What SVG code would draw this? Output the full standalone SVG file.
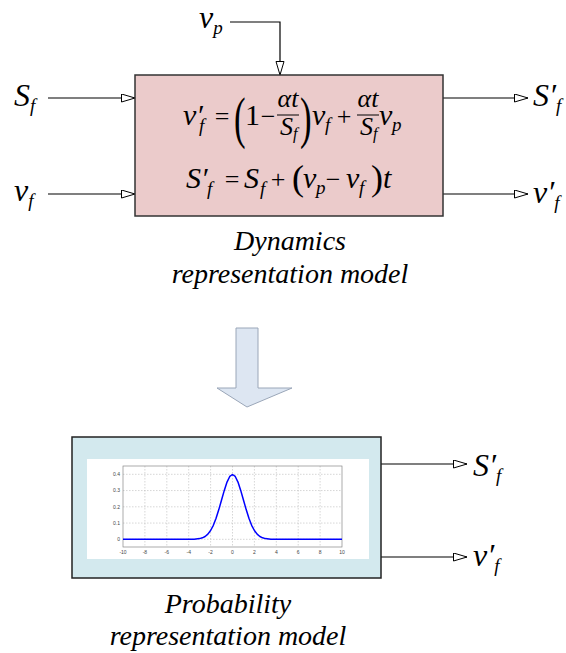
<svg xmlns="http://www.w3.org/2000/svg" width="566" height="653" viewBox="0 0 566 653">
<style>
.lbl{font-style:italic;font-size:32px;fill:#000}
.sub{font-size:19px}
.eq{font-size:30px;fill:#000}
.op{font-size:26px;fill:#000;text-anchor:middle}
.fr{font-size:26px;fill:#000;font-style:italic}
.it{font-style:italic}
.esub{font-style:italic;font-size:19px}
.cap{font-style:italic;font-size:28px;fill:#000;text-anchor:middle}
.conn{stroke:#000;stroke-width:1.2;fill:none;marker-end:url(#hollow)}
.grid{stroke:#bbb;stroke-width:0.6;stroke-dasharray:1.5 1.5}
.tick{font-size:5px;fill:#444}
</style>
<defs>
<marker id="hollow" markerUnits="userSpaceOnUse" markerWidth="16" markerHeight="10" refX="14" refY="4.5" orient="auto">
<path d="M0.5,0.5 L14,4.5 L0.5,8.5 Z" fill="#fff" stroke="#000" stroke-width="1"/>
</marker>
</defs>

<g id="connectors">
<path class="conn" d="M230,22 H280 V75"/>
<path class="conn" d="M48,98 H135"/>
<path class="conn" d="M48,194 H135"/>
<path class="conn" d="M443,98 H528"/>
<path class="conn" d="M443,194 H528"/>
<path class="conn" d="M381,464 H467"/>
<path class="conn" d="M381,557 H467"/>
</g>

<g id="io-labels" font-family="Liberation Serif">
<text class="lbl" x="199" y="28">v<tspan class="sub" dy="6">p</tspan></text>
<text class="lbl" x="14" y="106">S<tspan class="sub" dy="6">f</tspan></text>
<text class="lbl" x="14" y="201">v<tspan class="sub" dy="6">f</tspan></text>
<text class="lbl" x="533" y="106">S′<tspan class="sub" dy="6">f</tspan></text>
<text class="lbl" x="533" y="203">v′<tspan class="sub" dy="6">f</tspan></text>
<text class="lbl" x="473" y="476">S′<tspan class="sub" dy="6">f</tspan></text>
<text class="lbl" x="473" y="566">v′<tspan class="sub" dy="6">f</tspan></text>
</g>

<g id="dynamics-model" font-family="Liberation Serif">
<rect x="135" y="75" width="308" height="141" fill="#ebcbcb" stroke="#333" stroke-width="1.5"/>
<!-- equation 1 -->
<text class="eq it" x="183" y="125">v′</text>
<text class="esub" x="199" y="132">f</text>
<text class="op" x="222" y="125">=</text>
<text class="eq" x="234" y="137" style="font-size:58px" transform="translate(234,0) scale(0.6,1) translate(-234,0)">(</text>
<text class="eq" x="245" y="125">1</text>
<text class="op" x="268" y="125">−</text>
<text class="fr" x="288" y="107" text-anchor="middle">αt</text>
<line x1="277" y1="115" x2="299" y2="115" stroke="#000" stroke-width="1"/>
<text class="fr" x="280" y="135">S</text>
<text class="esub" x="293" y="139" style="font-size:16px">f</text>
<text class="eq" x="300" y="137" style="font-size:58px" transform="translate(300,0) scale(0.6,1) translate(-300,0)">)</text>
<text class="eq it" x="312" y="125">v</text>
<text class="esub" x="325" y="131">f</text>
<text class="op" x="344" y="125">+</text>
<text class="fr" x="368" y="107" text-anchor="middle">αt</text>
<line x1="357" y1="115" x2="379" y2="115" stroke="#000" stroke-width="1"/>
<text class="fr" x="360" y="135">S</text>
<text class="esub" x="373" y="139" style="font-size:16px">f</text>
<text class="eq it" x="379" y="125">v</text>
<text class="esub" x="392" y="131">p</text>
<!-- equation 2 -->
<text class="eq it" x="186" y="188">S′</text>
<text class="esub" x="207" y="195">f</text>
<text class="op" x="232" y="188">=</text>
<text class="eq it" x="244" y="188">S</text>
<text class="esub" x="260" y="195">f</text>
<text class="op" x="278" y="188">+</text>
<text class="eq" x="292" y="190" style="font-size:36px">(</text>
<text class="eq it" x="303" y="188">v</text>
<text class="esub" x="316" y="194">p</text>
<text class="op" x="333" y="188">−</text>
<text class="eq it" x="346" y="188">v</text>
<text class="esub" x="359" y="194">f</text>
<text class="eq" x="371" y="190" style="font-size:36px">)</text>
<text class="eq it" x="383" y="188">t</text>
<text class="cap" x="290" y="250">Dynamics</text>
<text class="cap" x="290" y="283">representation model</text>
</g>

<g id="transform-arrow">
<path d="M236,328 H258 V388 H292 L247,407 L217,388 H236 Z" fill="#dde6f2" stroke="#9aa6b8" stroke-width="1"/>
</g>

<g id="probability-model" font-family="Liberation Serif">
<rect x="72" y="437" width="309" height="141" fill="#d3e9ee" stroke="#222" stroke-width="1.5"/>
<rect x="87" y="459" width="282" height="100" fill="#fff"/>
<g>
<path class="grid" d="M144.9,466V547M166.8,466V547M188.7,466V547M210.6,466V547M232.5,466V547M254.4,466V547M276.3,466V547M298.2,466V547M320.1,466V547"/>
<path class="grid" d="M123,474.3H342M123,490.55H342M123,506.8H342M123,523.05H342M123,539.3H342"/>
<rect x="123" y="466" width="219" height="81" fill="none" stroke="#888" stroke-width="0.7"/>
<path d="M123,539.3 L188.7,539.3 L194.17,539.16 L199.65,538.6 L202.39,537.8 L205.12,536.46 L207.86,534.15 L210.6,530.5 L213.34,525.3 L216.07,518.3 L218.81,509.6 L221.55,500 L224.29,490.4 L227.02,482.1 L229.76,476.46 L232.5,474.5 L235.24,476.46 L237.98,482.1 L240.71,490.4 L243.45,500 L246.19,509.6 L248.93,518.3 L251.66,525.3 L254.4,530.5 L257.14,534.15 L259.88,536.46 L262.61,537.8 L265.35,538.6 L270.83,539.16 L276.3,539.3 L342,539.3" fill="none" stroke="#0000ff" stroke-width="1.5" stroke-linejoin="round"/>
<g class="tick" text-anchor="end" font-family="Liberation Sans">
<text x="120" y="476">0.4</text>
<text x="120" y="492">0.3</text>
<text x="120" y="508.5">0.2</text>
<text x="120" y="524.8">0.1</text>
<text x="120" y="541">0</text>
</g>
<g class="tick" text-anchor="middle" font-family="Liberation Sans">
<text x="123" y="554">-10</text>
<text x="144.9" y="554">-8</text>
<text x="166.8" y="554">-6</text>
<text x="188.7" y="554">-4</text>
<text x="210.6" y="554">-2</text>
<text x="232.5" y="554">0</text>
<text x="254.4" y="554">2</text>
<text x="276.3" y="554">4</text>
<text x="298.2" y="554">6</text>
<text x="320.1" y="554">8</text>
<text x="342" y="554">10</text>
</g>
</g>
<text class="cap" x="228" y="613">Probability</text>
<text class="cap" x="228" y="645">representation model</text>
</g>
</svg>
